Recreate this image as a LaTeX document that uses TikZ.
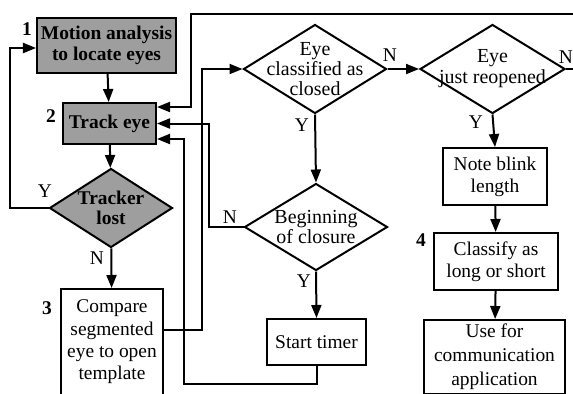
\documentclass[tikz,border=0pt]{standalone}
\usepackage{fontspec}
\setmainfont{Liberation Serif}
\usetikzlibrary{arrows.meta,shapes.geometric,calc}
\begin{document}
\begin{tikzpicture}[x=1bp,y=-1bp,
  every node/.style={font=\fontsize{19.5}{22}\selectfont},
  lw/.style={line width=2bp},
  box/.style={draw,lw,rectangle,inner sep=0,align=center},
  shaded/.style={fill=black!38,font=\fontsize{19.5}{21}\selectfont\bfseries},
  dia/.style={draw,lw,shape=diamond,inner sep=0},
  conn/.style={lw,-{Triangle[length=13bp,width=10bp]}},
  num/.style={font=\fontsize{19.5}{22}\selectfont\bfseries,inner sep=0},
  yn/.style={font=\fontsize{19.5}{22}\selectfont,inner sep=0}]
\useasboundingbox (0,0) rectangle (573,393);
\clip (0,0) rectangle (573,393);
% nodes
\node[box,shaded,minimum width=139bp,minimum height=55bp] (motion) at (106.5,45.5) {Motion analysis\\to locate eyes};
\node[box,shaded,minimum width=93bp,minimum height=41bp] (track) at (109.5,123.5) {Track eye};
\node[dia,shaded,minimum width=123bp,minimum height=79bp,
  label={[align=center,font=\fontsize{19.5}{20}\selectfont\bfseries]center:Tracker\\lost}] (lost) at (111,208) {};
\node[box,minimum width=102bp,minimum height=106bp,font=\fontsize{19.5}{22.5}\selectfont] (compare) at (112,342) {Compare\\segmented\\eye to open\\template};
\node[dia,minimum width=143bp,minimum height=89bp,
  label={[align=center,font=\fontsize{20}{20}\selectfont]center:Eye\\classified as\\closed}] (classified) at (315,69) {};
\node[dia,minimum width=145bp,minimum height=89bp,
  label={[align=center,font=\fontsize{20}{21}\selectfont]center:Eye\\just reopened}] (reopened) at (492.5,69) {};
\node[dia,minimum width=143bp,minimum height=87bp,
  label={[align=center,font=\fontsize{20}{21}\selectfont]center:Beginning\\of closure}] (closure) at (316,227) {};
\node[box,minimum width=99bp,minimum height=46bp] (timer) at (316.5,342) {Start timer};
\node[box,minimum width=104bp,minimum height=57bp] (note) at (495,176.5) {Note blink\\length};
\node[box,minimum width=124bp,minimum height=57bp] (classify) at (496,261.5) {Classify as\\long or short};
\node[box,minimum width=141bp,minimum height=74bp,font=\fontsize{19.5}{24}\selectfont] (use) at (494.5,357) {Use for\\communication\\application};
% numbers
\node[num] (n1) at (27,29) {1};
\node[num] (n2) at (51,116) {2};
\node[num] (n3) at (47,308) {3};
\node[num] (n4) at (421,240) {4};
% Y/N labels
\node[yn] (ly1) at (45,191) {Y};
\node[yn] (ln1) at (97,258) {N};
\node[yn] (ln2) at (230,217) {N};
\node[yn] (ln3) at (390,55) {N};
\node[yn] (ly2) at (302,125) {Y};
\node[yn] (ly3) at (476,122) {Y};
\node[yn] (ln4) at (566,57) {N};
\node[yn] (ly4) at (304,281) {Y};
\coordinate (topline) at (191,14);
% connectors
\draw[conn] (motion) -- (track);
\draw[conn] (track) -- (lost);
\draw[conn] (lost.west) -- ++(-38,0) |- ([yshift=-2.5bp]motion.west);
\draw[conn] (lost) -- (compare);
\draw[conn] ([yshift=12bp]compare.east) -- ++(38,0) |- (classified.west);
\draw[conn] (classified.east) -- (reopened.west);
\draw[conn] (classified.south) -- (closure.north);
\draw[conn] (closure.west) -- ++(-35,0) |- (track.east);
\draw[conn] (closure.south) -- (timer.north);
\draw[conn] (timer.south) -- ++(0,18) -| ([xshift=27bp,yshift=-15.5bp]track.east) -- ([yshift=-15.5bp]track.east);
\draw[conn] (reopened.east) -- ++(20,0) |- (topline) |- ([yshift=16.5bp]track.east);
\draw[conn] (reopened.south) -- (note.north);
\draw[conn] (note) -- (classify);
\draw[conn] (classify) -- (use);
\end{tikzpicture}
\end{document}
